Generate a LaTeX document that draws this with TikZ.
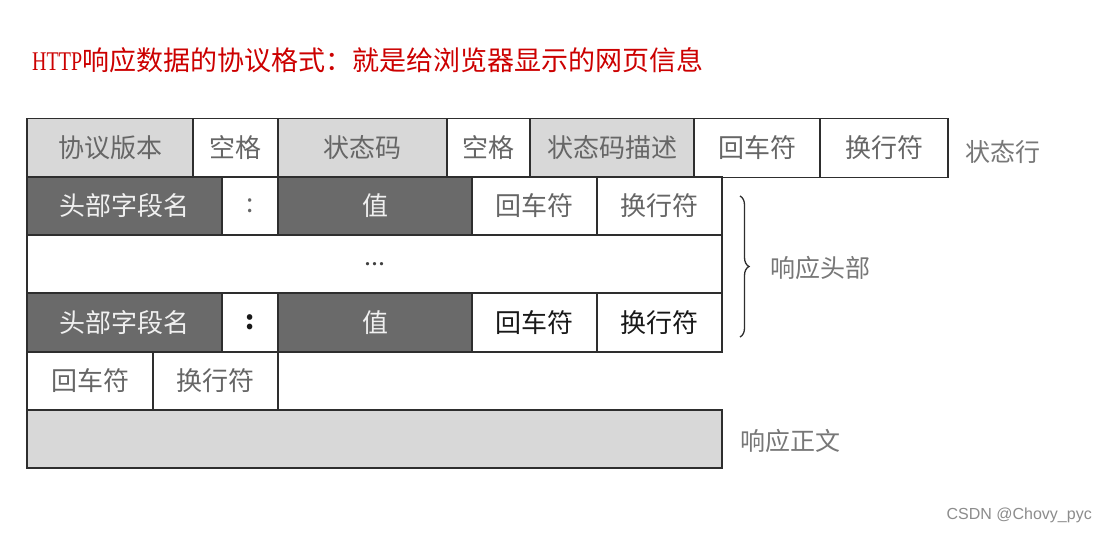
\documentclass[tikz,border=0pt]{standalone}
\usepackage{fontspec}
\setmainfont{Liberation Serif}
\newfontfamily\cjk{Noto Sans CJK SC}
\newfontfamily\wmfont{Liberation Sans}
\usetikzlibrary{decorations.pathreplacing}
\definecolor{bordc}{HTML}{2E2E2E}
\definecolor{lgray}{HTML}{D8D8D8}
\definecolor{dgray}{HTML}{6A6A6A}
\definecolor{txtg}{HTML}{666666}
\definecolor{labg}{HTML}{777777}
\definecolor{titred}{HTML}{CC0000}
\tikzset{
  cell/.style={draw=bordc, line width=1.8pt, inner sep=0pt, minimum height=#1, font=\cjk\fontsize{26}{30}\selectfont, text=txtg},
  cell/.default=59pt,
  light/.style={fill=lgray},
  dark/.style={fill=dgray, text=white!94!black},
  blk/.style={text=black!90, font=\cjk\fontsize{26}{30}\selectfont},
  side/.style={font=\cjk\fontsize{25}{30}\selectfont, text=labg, inner sep=0pt},
}
\begin{document}
\begin{tikzpicture}[x=1pt,y=-1pt]
\useasboundingbox[fill=white] (0,0) rectangle (1107,534);
% title
\node[anchor=west, inner sep=0pt, text=titred, font=\fontsize{27}{32}\selectfont] (title) at (32,60)
  {\scalebox{0.74}[1]{HTTP}{\cjk 响应数据的协议格式：就是给浏览器显示的网页信息}};
% row 1: status line
\node[cell, light, minimum width=166pt] (ver) at (110,148) {协议版本};
\node[cell, minimum width=85pt] (sp1) at (235.5,148) {空格};
\node[cell, light, minimum width=169pt] (code) at (362.5,148) {状态码};
\node[cell, minimum width=83pt] (sp2) at (488.5,148) {空格};
\node[cell, light, minimum width=164pt] (desc) at (612,148) {状态码描述};
\node[cell, minimum width=126pt] (cr1) at (757,148) {回车符};
\node[cell, minimum width=128pt] (lf1) at (884,148) {换行符};
\node[side, anchor=west] (lstat) at (965,152) {状态行};
% row 2: header line
\node[cell=58pt, dark, minimum width=195pt] (hn1) at (124.5,206) {头部字段名};
\node[cell=58pt, minimum width=56pt] (col1) at (250,206) {:};
\node[cell=58pt, dark, minimum width=194pt] (val1) at (375,206) {值};
\node[cell=58pt, minimum width=125pt] (cr2) at (534.5,206) {回车符};
\node[cell=58pt, minimum width=125pt] (lf2) at (659.5,206) {换行符};
% row 3: dots
\node[cell=58pt, minimum width=695pt, font=\bfseries\fontsize{20}{24}\selectfont, text=black!75] (dots) at (374.5,264) {.\kern2pt.\kern2pt.};
% row 4: header line
\node[cell, dark, minimum width=195pt] (hn2) at (124.5,322.5) {头部字段名};
\node[cell, blk, minimum width=56pt, font=\cjk\bfseries\fontsize{26}{30}\selectfont] (col2) at (250,322.5) {:};
\node[cell, dark, minimum width=194pt] (val2) at (375,322.5) {值};
\node[cell, blk, minimum width=125pt] (cr4) at (534.5,322.5) {回车符};
\node[cell, blk, minimum width=125pt] (lf4) at (659.5,322.5) {换行符};
% row 5: blank line
\node[cell=58pt, minimum width=126pt] (cr5) at (90,381) {回车符};
\node[cell=58pt, minimum width=125pt] (lf5) at (215.5,381) {换行符};
% row 6: body
\node[cell=58pt, light, minimum width=695pt] (body) at (374.5,439) {};
% brace
\coordinate (bt) at (740,196);
\coordinate (bb) at (740,337);
\draw[line width=1.3pt, draw=bordc, decorate, decoration={brace, amplitude=9pt}] (bt) -- (bb);
\node[side, anchor=west] (lhead) at (770,268) {响应头部};
\node[side, anchor=west] (lbody) at (740,441) {响应正文};
% watermark
\node[anchor=east, inner sep=0pt, text=black!45, font=\wmfont\fontsize{16}{19}\selectfont] (wm) at (1092,515) {CSDN @Chovy\_pyc};
\end{tikzpicture}
\end{document}
